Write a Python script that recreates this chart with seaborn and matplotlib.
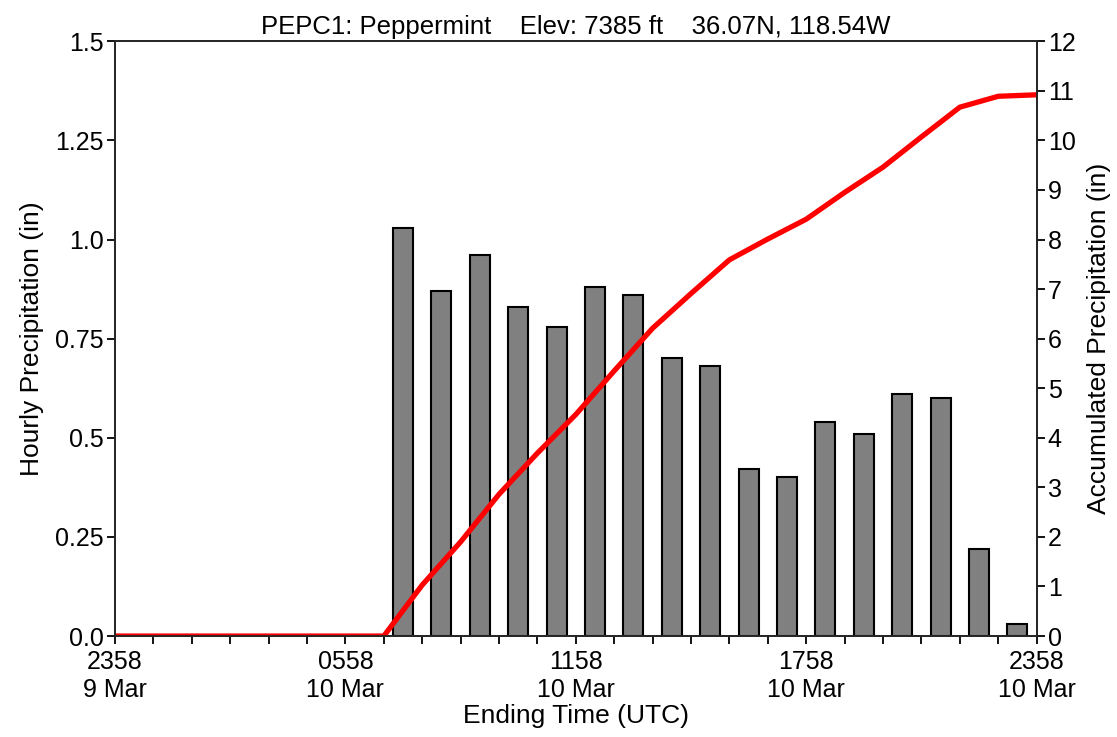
"""
Precipitation horaire et cumulee - PEPC1 Peppermint
"""

import matplotlib
matplotlib.use("Agg")
import matplotlib.pyplot as plt
import pandas as pd
import seaborn as sns
from matplotlib.ticker import MultipleLocator, FixedLocator

# Heures ecoulees depuis 2358 le 9 mars (centre de chaque intervalle horaire)
bar_hours = [7.5, 8.5, 9.5, 10.5, 11.5, 12.5, 13.5, 14.5, 15.5,
             16.5, 17.5, 18.5, 19.5, 20.5, 21.5, 22.5, 23.5]
hourly_precip = [1.03, 0.87, 0.96, 0.83, 0.78, 0.88, 0.86, 0.70, 0.68,
                 0.42, 0.40, 0.54, 0.51, 0.61, 0.60, 0.22, 0.03]

# Cumul a la fin de chaque heure
accum_hours = list(range(0, 25))
accum_precip = [0, 0, 0, 0, 0, 0, 0, 0, 1.03, 1.90, 2.86, 3.69, 4.47,
                5.35, 6.21, 6.91, 7.59, 8.01, 8.41, 8.95, 9.46, 10.07,
                10.67, 10.89, 10.92]

major_ticks = [0, 6, 12, 18, 24]
major_labels = ["2358\n9 Mar", "0558\n10 Mar", "1158\n10 Mar",
                "1758\n10 Mar", "2358\n10 Mar"]
left_ticks = [0.0, 0.25, 0.5, 0.75, 1.0, 1.25, 1.5]
left_labels = ["0.0", "0.25", "0.5", "0.75", "1.0", "1.25", "1.5"]

TITLE = "PEPC1: Peppermint    Elev: 7385 ft    36.07N, 118.54W"

sns.set_style("ticks")
plt.rcParams["font.family"] = ["Liberation Sans", "DejaVu Sans"]
plt.rcParams["text.color"] = "black"
plt.rcParams["axes.labelcolor"] = "black"
plt.rcParams["axes.linewidth"] = 1.3

bars_df = pd.DataFrame({"hour": bar_hours, "precip": hourly_precip})
accum_df = pd.DataFrame({"hour": accum_hours, "accum": accum_precip})

fig = plt.figure(figsize=(11.17, 7.37), dpi=100)
ax = fig.add_axes([0.103, 0.137, 0.825, 0.807])

sns.barplot(data=bars_df, x="hour", y="precip", native_scale=True,
            width=0.52, color="#808080", saturation=1, edgecolor="black",
            linewidth=1.5, errorbar=None, ax=ax)

ax2 = ax.twinx()
sns.lineplot(data=accum_df, x="hour", y="accum", color="red",
             linewidth=3.8, ax=ax2)

# Axe X
ax.set_xlim(0, 24)
ax.xaxis.set_major_locator(FixedLocator(major_ticks))
ax.set_xticklabels(major_labels)
ax.xaxis.set_minor_locator(MultipleLocator(1))
ax.set_xlabel("Ending Time (UTC)", fontsize=19, labelpad=2)

# Axe Y gauche
ax.set_ylim(0, 1.5)
ax.set_yticks(left_ticks)
ax.set_yticklabels(left_labels)
ax.set_ylabel("Hourly Precipitation (in)", fontsize=19, labelpad=8)

# Axe Y droit
ax2.set_ylim(0, 12)
ax2.yaxis.set_major_locator(MultipleLocator(1))
ax2.set_ylabel("Accumulated Precipitation (in)", fontsize=19, labelpad=8)
ax2.set_xlim(0, 24)

for a in (ax, ax2):
    a.tick_params(which="both", direction="out", length=6, width=1.3,
                  labelsize=18, colors="black", pad=2)
    for s in a.spines.values():
        s.set_visible(True)
        s.set_linewidth(1.3)
ax.tick_params(axis="x", which="major", pad=4)

ax.set_title(TITLE, fontsize=18.5, pad=5)

fig.savefig("out.png", dpi=100)
